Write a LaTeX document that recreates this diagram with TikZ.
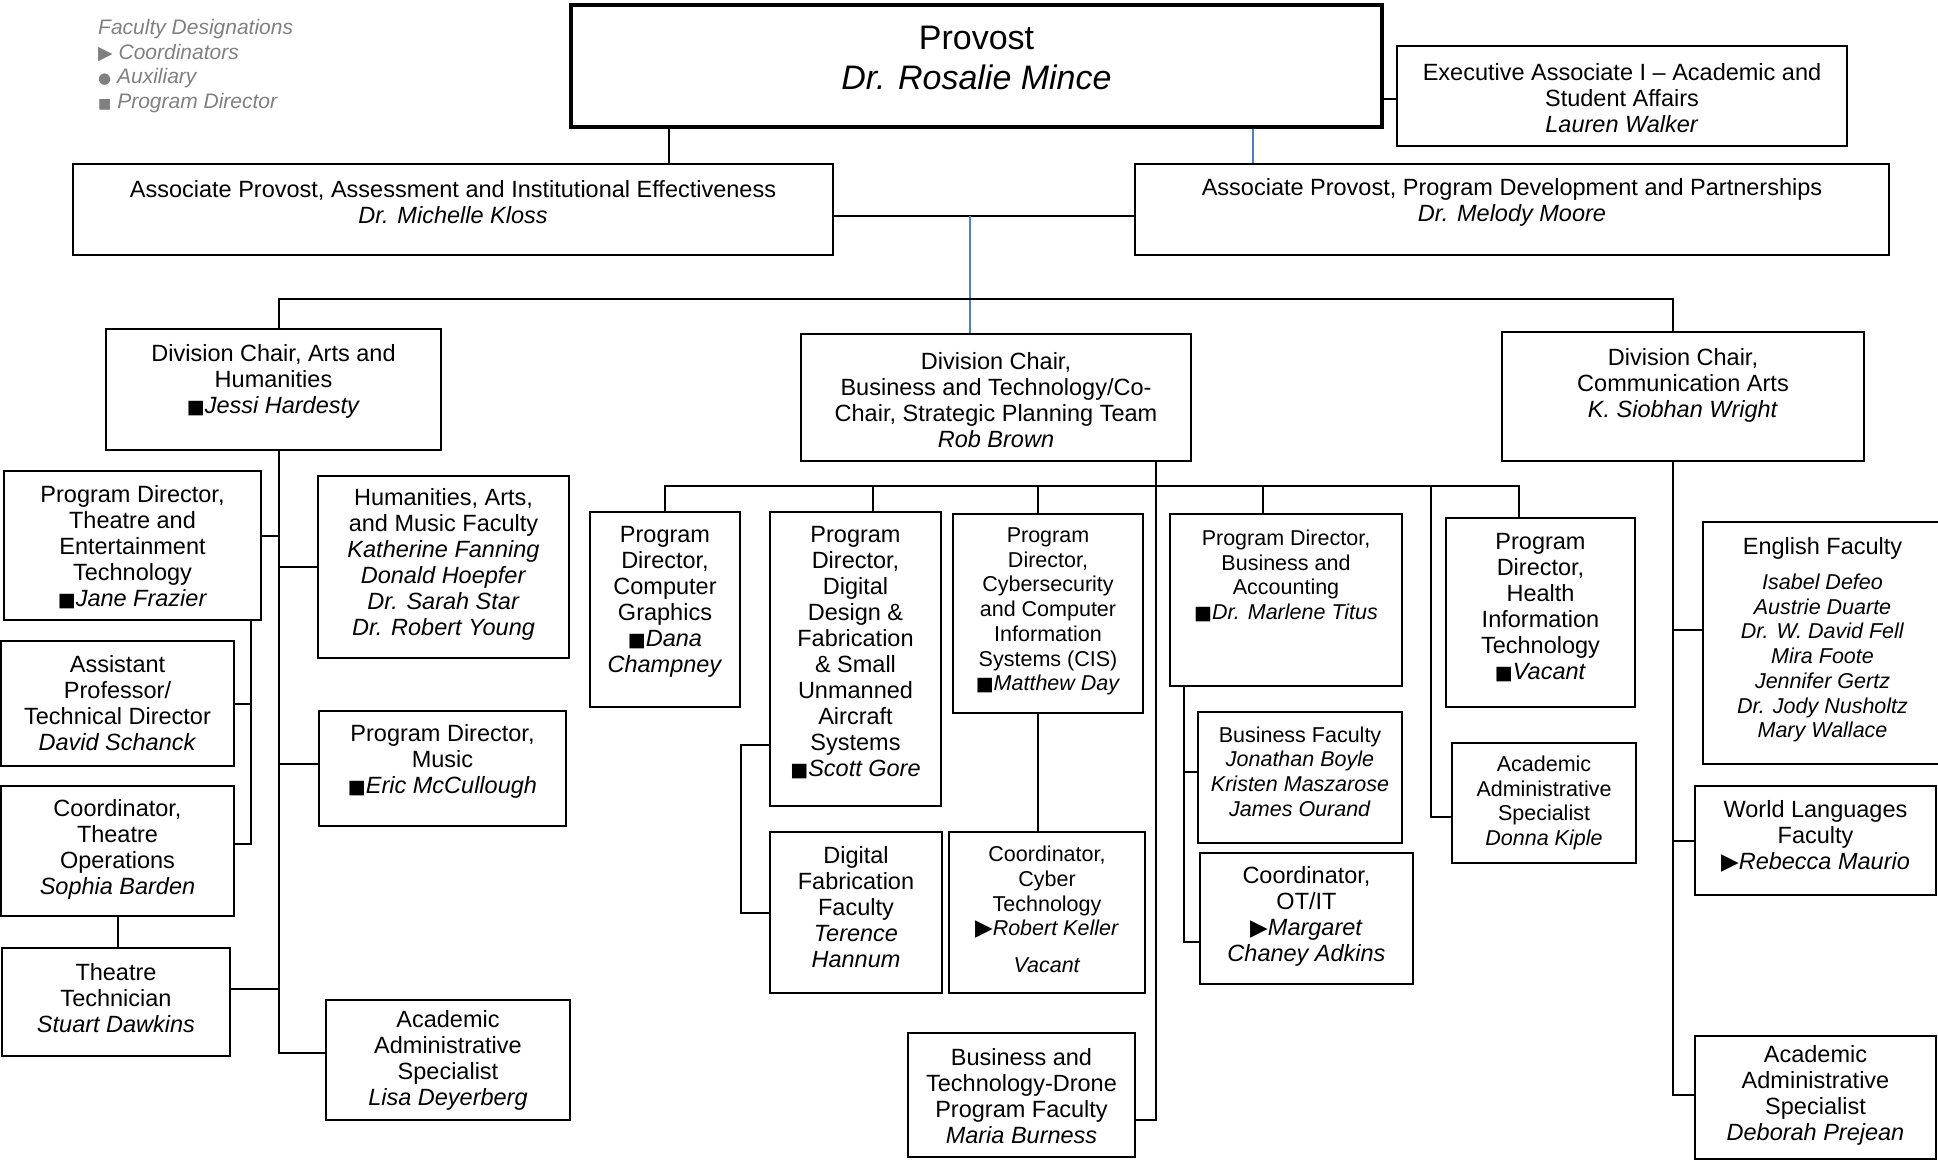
\documentclass[tikz,border=0pt]{standalone}
\usepackage{fontspec}
\setmainfont{Liberation Sans}
\newfontfamily\symfont{DejaVu Sans}
\usetikzlibrary{fit, positioning}

\definecolor{legendgray}{RGB}{128,128,128}
\definecolor{linkblue}{RGB}{79,129,189}

\newcommand{\mainsz}{\fontsize{23.5}{26}\selectfont}
\newcommand{\smallsz}{\fontsize{21.5}{24.7}\selectfont}
\newcommand{\pdmark}{{\symfont\fontsize{19}{19}\selectfont ■}}
\newcommand{\comark}{{\symfont\fontsize{23}{23}\selectfont ▶}}
\newcommand{\lgtri}{{\symfont\fontsize{19}{19}\selectfont ▶}}
\newcommand{\lgdot}{{\symfont\fontsize{15}{15}\selectfont ●}}
\newcommand{\lgsq}{{\symfont\fontsize{14}{14}\selectfont ■}}

% [text style]{name}{corner}{corner}{text shift}{text}
\newcommand{\orgbox}[6][txt]{%
    \node[frame, fit={(#3) (#4)}] (#2) {};
    \node[#1, yshift=#5] (#2txt) at (#2.center) {#6};}

\begin{document}
\begin{tikzpicture}[x=1pt, y=-1pt,
    frame/.style={draw, line width=2pt, inner sep=0pt},
    txt/.style={align=center, inner sep=0pt, font=\mainsz},
    smalltxt/.style={txt, font=\smallsz},
    link/.style={line width=2pt},
    bluelink/.style={draw=linkblue, line width=1.6pt}]

    \useasboundingbox (0,0) rectangle (1938,1160);
    \clip (0,0) rectangle (1938,1160);

    \node[anchor=north west, inner sep=0pt, align=left, text=legendgray,
      font=\fontsize{21}{24.7}\selectfont] (legend) at (98,19)
      {\textit{Faculty Designations}\\ \lgtri\ \textit{Coordinators}\\
       \lgdot\ \textit{Auxiliary}\\ \lgsq\ \textit{Program Director}};

    % top level
    \node[frame, line width=4.5pt, fit={(571,5) (1382,127)}] (provost) {};
    \node[txt, font=\fontsize{34}{40}\selectfont, yshift=8] (provosttxt) at (provost.center)
      {Provost\\ \textit{Dr. Rosalie Mince}};
    \orgbox{exec}{1397,46}{1847,146}{-2}
      {Executive Associate I – Academic and\\ Student Affairs\\ \textit{Lauren Walker}}
    \orgbox{assocl}{73,164}{833,255}{7}
      {Associate Provost, Assessment and Institutional Effectiveness\\ \textit{Dr. Michelle Kloss}}
    \orgbox{assocr}{1135,164}{1889,255}{7}
      {Associate Provost, Program Development and Partnerships\\ \textit{Dr. Melody Moore}}

    % divisions
    \orgbox{arts}{106,329}{441,450}{8}
      {Division Chair, Arts and\\ Humanities\\ \pdmark\textit{Jessi Hardesty}}
    \orgbox{busdiv}{801,334}{1191,461}{-3}
      {Division Chair,\\ Business and Technology/Co-\\ Chair, Strategic Planning Team\\ \textit{Rob Brown}}
    \orgbox{comm}{1502,332}{1864,461}{11}
      {Division Chair,\\ Communication Arts\\ \textit{K. Siobhan Wright}}

    % arts and humanities
    \orgbox{theatrepd}{4,471}{261,620}{-2}
      {Program Director,\\ Theatre and\\ Entertainment\\ Technology\\ \pdmark\textit{Jane Frazier}}
    \orgbox{humanities}{318,476}{569,658}{3}
      {Humanities, Arts,\\ and Music Faculty\\ \textit{Katherine Fanning}\\ \textit{Donald Hoepfer}\\
       \textit{Dr. Sarah Star}\\ \textit{Dr. Robert Young}}
    \orgbox{asstprof}{1,641}{234,766}{0}
      {Assistant\\ Professor/\\ Technical Director\\ \textit{David Schanck}}
    \orgbox{coordth}{1,786}{234,916}{2}
      {Coordinator,\\ Theatre\\ Operations\\ \textit{Sophia Barden}}
    \orgbox{tech}{2,948}{230,1056}{4}
      {Theatre\\ Technician\\ \textit{Stuart Dawkins}}
    \orgbox{music}{319,711}{566,826}{7}
      {Program Director,\\ Music\\ \pdmark\textit{Eric McCullough}}
    \orgbox{lisa}{326,1000}{570,1120}{0}
      {Academic\\ Administrative\\ Specialist\\ \textit{Lisa Deyerberg}}

    % business and technology
    \orgbox{cg}{590,512}{740,707}{8}
      {Program\\ Director,\\ Computer\\ Graphics\\ \pdmark\textit{Dana}\\ \textit{Champney}}
    \orgbox{dd}{770,512}{941,806}{6}
      {Program\\ Director,\\ Digital\\ Design \&\\ Fabrication\\ \& Small\\ Unmanned\\ Aircraft\\ Systems\\
       \pdmark\textit{Scott Gore}}
    \orgbox[smalltxt]{cyber}{953,514}{1143,713}{2}
      {Program\\ Director,\\ Cybersecurity\\ and Computer\\ Information\\ Systems (CIS)\\ \pdmark\textit{Matthew Day}}
    \orgbox[smalltxt]{ba}{1170,514}{1402,686}{24}
      {Program Director,\\ Business and\\ Accounting\\ \pdmark\textit{Dr. Marlene Titus}}
    \orgbox{health}{1446,518}{1635,707}{5}
      {Program\\ Director,\\ Health\\ Information\\ Technology\\ \pdmark\textit{Vacant}}
    \orgbox[smalltxt]{donna}{1452,743}{1636,863}{0}
      {Academic\\ Administrative\\ Specialist\\ \textit{Donna Kiple}}
    \orgbox{df}{770,832}{942,993}{5}
      {Digital\\ Fabrication\\ Faculty\\ \textit{Terence}\\ \textit{Hannum}}
    \orgbox[smalltxt]{coordcyber}{949,832}{1145,993}{3}
      {Coordinator,\\ Cyber\\ Technology\\ \comark\textit{Robert Keller}\\[12pt] \textit{Vacant}}
    \orgbox[smalltxt]{busfac}{1198,712}{1402,843}{6}
      {Business Faculty\\ \textit{Jonathan Boyle}\\ \textit{Kristen Maszarose}\\ \textit{James Ourand}}
    \orgbox{coordot}{1200,853}{1413,984}{2}
      {Coordinator,\\ OT/IT\\ \comark\textit{Margaret}\\ \textit{Chaney Adkins}}
    \orgbox{drone}{908,1033}{1135,1157}{-1}
      {Business and\\ Technology-Drone\\ Program Faculty\\ \textit{Maria Burness}}

    % communication arts
    \node[frame, fit={(1703,522) (1950,764)}] (english) {};
    \node[smalltxt, yshift=3, xshift=-4] (englishtxt) at (english.center)
      {{\mainsz English Faculty}\\[10pt] \textit{Isabel Defeo}\\ \textit{Austrie Duarte}\\ \textit{Dr. W. David Fell}\\
       \textit{Mira Foote}\\ \textit{Jennifer Gertz}\\ \textit{Dr. Jody Nusholtz}\\ \textit{Mary Wallace}};
    \orgbox{world}{1695,786}{1936,895}{4}
      {World Languages\\ Faculty\\ \comark\textit{Rebecca Maurio}}
    \orgbox{deborah}{1695,1036}{1936,1159}{2}
      {Academic\\ Administrative\\ Specialist\\ \textit{Deborah Prejean}}

    \coordinate (mid) at (970,216);
    \coordinate (ta) at (279,299);
    \coordinate (tc) at (1673,299);
    \coordinate (tb) at (1156,486);
    \coordinate (xpl) at (669,0);
    \coordinate (xpr) at (1253,0);
    \coordinate (tt) at (251,0);
    \coordinate (td) at (1431,0);
    \coordinate (tba) at (1184,0);

    \draw[link] (provost.south -| xpl) -- (assocl.north -| xpl);
    \draw[bluelink] (provost.south -| xpr) -- (assocr.north -| xpr);
    \draw[link] ([yshift=-3]exec.west) -- ([yshift=-3]exec.west -| provost.east);
    \draw[link] (assocl.east |- mid) -- (assocr.west |- mid);
    \draw[bluelink] (mid) -- (mid |- busdiv.north);
    \draw[link] (arts.north -| ta) -- (ta) -- (tc) -- (comm.north -| tc);

    \draw[link] (arts.south -| ta) |- ([yshift=7]lisa.west);
    \foreach \n/\s in {theatrepd/10, tech/13}
        \draw[link] ([yshift=\s]\n.east) -- ([yshift=\s]\n.east -| ta);
    \foreach \n/\s in {humanities/0, music/5}
        \draw[link] ([yshift=\s]\n.west) -- ([yshift=\s]\n.west -| ta);
    \draw[link] (theatrepd.south -| tt) |- ([yshift=7]coordth.east);
    \draw[link] (asstprof.east) -- (asstprof.east -| tt);
    \draw[link] (coordth.south) -- (coordth.south |- tech.north);

    \draw[link] (busdiv.south -| tb) |- ([yshift=-25]drone.east);
    \draw[link] (cg.north) |- ([xshift=-22]health.north |- tb) -- ([xshift=-22]health.north);
    \foreach \n/\s in {dd/17, cyber/-10, ba/-23}
        \draw[link] ([xshift=\s]\n.north) -- ([xshift=\s]\n.north |- tb);
    \draw[link] (td |- tb) |- ([yshift=-14]donna.west);
    \draw[link] ([yshift=-86]dd.west) -- ++(-28,0) |- (df.west);
    \draw[link] ([xshift=-10]cyber.south) -- ([xshift=-10]cyber.south |- coordcyber.north);
    \draw[link] (ba.south -| tba) |- ([yshift=-23]coordot.west);
    \draw[link] ([yshift=6]busfac.west) -- ([yshift=6]busfac.west -| tba);

    \draw[link] (comm.south -| tc) |- ([yshift=3]deborah.west);
    \draw[link] ([yshift=13]english.west) -- ([yshift=13]english.west -| tc);
    \draw[link] (world.west) -- (world.west -| tc);
\end{tikzpicture}
\end{document}
